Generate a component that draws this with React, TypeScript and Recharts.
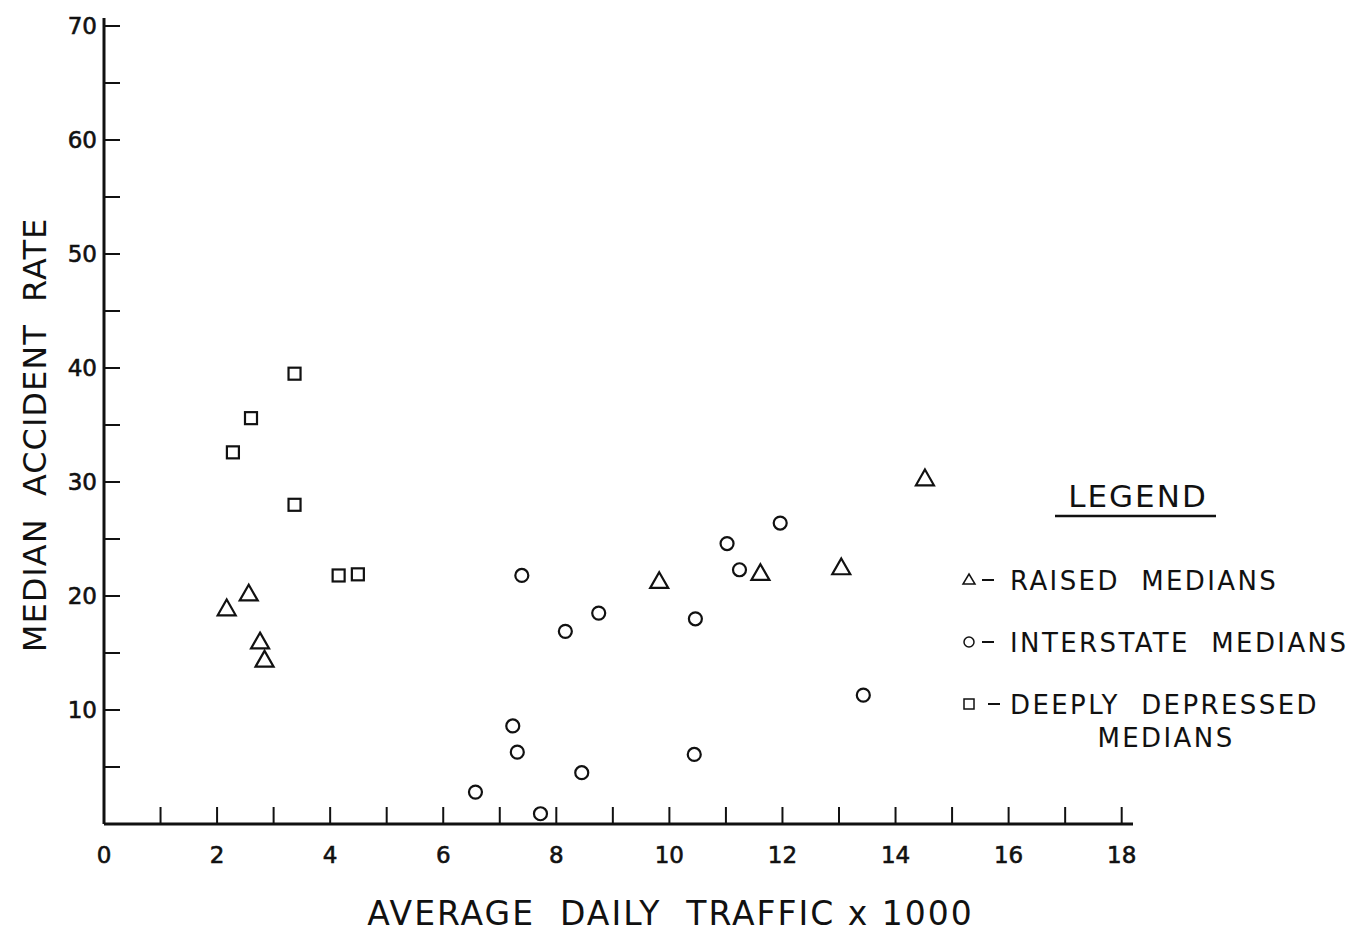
import React from 'react';
import { ScatterChart, Scatter, XAxis, YAxis, Legend } from 'recharts';

// values
const raisedX = [2.17, 2.56, 2.76, 2.84, 9.82, 11.61, 13.04, 14.52];
const raisedY = [18.9, 20.2, 16.0, 14.4, 21.3, 22.0, 22.5, 30.3];

const interstateX = [6.57, 7.23, 7.31, 7.39, 7.72, 8.16, 8.45, 8.75, 10.46, 10.44, 11.02, 11.24, 11.96, 13.43];
const interstateY = [2.8, 8.6, 6.3, 21.8, 0.9, 16.9, 4.5, 18.5, 18.0, 6.1, 24.6, 22.3, 26.4, 11.3];

const depressedX = [3.37, 2.6, 2.28, 3.37, 4.15, 4.49];
const depressedY = [39.5, 35.6, 32.6, 28.0, 21.8, 21.9];

const xTicks = [0, 1, 2, 3, 4, 5, 6, 7, 8, 9, 10, 11, 12, 13, 14, 15, 16, 17, 18];
const yTicks = [5, 10, 15, 20, 25, 30, 35, 40, 45, 50, 55, 60, 65, 70];

const seriesNames = ['RAISED MEDIANS', 'INTERSTATE MEDIANS', 'DEEPLY DEPRESSED|MEDIANS'];

const INK = '#111';
const FONT = '"DejaVu Sans", sans-serif';

const toPoints = (xs: number[], ys: number[]) => xs.map((x, i) => ({ x, y: ys[i] }));

const raised = toPoints(raisedX, raisedY);
const interstate = toPoints(interstateX, interstateY);
const depressed = toPoints(depressedX, depressedY);

function Triangle(props: any) {
  const { cx, cy } = props;
  if (cx == null || cy == null) return null;
  const s = 9;
  return (
    <path
      d={`M${cx},${cy - s} L${cx + s},${cy + s * 0.75} L${cx - s},${cy + s * 0.75} Z`}
      fill="none"
      stroke={INK}
      strokeWidth={2.2}
    />
  );
}

function Circle(props: any) {
  const { cx, cy } = props;
  if (cx == null || cy == null) return null;
  return <circle cx={cx} cy={cy} r={6.5} fill="none" stroke={INK} strokeWidth={2.2} />;
}

function Square(props: any) {
  const { cx, cy } = props;
  if (cx == null || cy == null) return null;
  return <rect x={cx - 6} y={cy - 6} width={12} height={12} fill="none" stroke={INK} strokeWidth={2.2} />;
}

function XTick(props: any) {
  const { x, y, payload } = props;
  const v = payload.value;
  return (
    <g>
      <line x1={x} x2={x} y1={y} y2={y - 17} stroke={INK} strokeWidth={2} />
      {v % 2 === 0 && (
        <text x={x} y={y + 39} textAnchor="middle" fontFamily={FONT} fontSize={23} fill={INK} stroke={INK} strokeWidth={0.6}>
          {v}
        </text>
      )}
    </g>
  );
}

function YTick(props: any) {
  const { x, y, payload } = props;
  const v = payload.value;
  return (
    <g>
      <line x1={x} x2={x + 16} y1={y} y2={y} stroke={INK} strokeWidth={2} />
      {v % 10 === 0 && (
        <text x={x - 7} y={y + 8} textAnchor="end" fontFamily={FONT} fontSize={23} fill={INK} stroke={INK} strokeWidth={0.6}>
          {v}
        </text>
      )}
    </g>
  );
}

function LegendIcon({ kind }: { kind: number }) {
  if (kind === 0) return <path d="M7,2 L13,12 L1,12 Z" fill="none" stroke={INK} strokeWidth={1.5} />;
  if (kind === 1) return <circle cx={7} cy={8} r={5} fill="none" stroke={INK} strokeWidth={1.5} />;
  return <rect x={2} y={3} width={10} height={10} fill="none" stroke={INK} strokeWidth={1.5} />;
}

function LegendBox(props: any) {
  const names = (props.payload || []).map((p: any) => String(p.value));
  const items = seriesNames.filter((n) => names.includes(n));
  return (
    <svg width={395} height={300} style={{ overflow: 'visible', display: 'block' }}>
      <text x={178} y={48} textAnchor="middle" fontFamily={FONT} fontSize={31} letterSpacing={2} fill={INK}>
        LEGEND
      </text>
      <line x1={95} x2={256} y1={57} y2={57} stroke={INK} strokeWidth={2.5} />
      {items.map((name: string, i: number) => {
        const kind = seriesNames.indexOf(name);
        const lines = name.split('|');
        const top = 131 + i * 62;
        return (
          <g key={name}>
            <g transform={`translate(2,${top - 18})`}>
              <LegendIcon kind={kind} />
            </g>
            <line x1={kind === 2 ? 28 : 22} x2={kind === 2 ? 40 : 34} y1={top - 10} y2={top - 10} stroke={INK} strokeWidth={2} />
            {lines.map((ln, j) => (
              <text
                key={ln}
                x={j === 0 ? 50 : 206}
                y={top + j * 33}
                textAnchor={j === 0 ? 'start' : 'middle'}
                fontFamily={FONT}
                fontSize={26}
                letterSpacing={2.4}
                fill={INK}
                style={{ whiteSpace: 'pre' }}
              >
                {ln.replace(' ', '  ')}
              </text>
            ))}
          </g>
        );
      })}
    </svg>
  );
}

export default function App() {
  return (
    <div style={{ position: 'absolute', left: 0, top: 0, background: '#fff' }}>
      <ScatterChart width={1357} height={932} margin={{ top: 18, right: 224, bottom: 107, left: 103 }}>
        <XAxis
          type="number"
          dataKey="x"
          domain={[0, 18.2]}
          ticks={xTicks}
          interval={0}
          height={1}
          tickSize={0}
          tickMargin={0}
          tickLine={false}
          tick={<XTick />}
          axisLine={{ stroke: INK, strokeWidth: 3 }}
          allowDataOverflow
          label={{
            content: (p: any) => (
              <text
                x={p.viewBox.x + p.viewBox.width / 2 + 52}
                y={p.viewBox.y + 101}
                textAnchor="middle"
                fontFamily={FONT}
                fontSize={33}
                letterSpacing={2}
                fill={INK}
                style={{ whiteSpace: 'pre' }}
              >
                AVERAGE  DAILY  TRAFFIC x 1000
              </text>
            ),
          }}
        />
        <YAxis
          type="number"
          dataKey="y"
          domain={[0, 70.7]}
          ticks={yTicks}
          interval={0}
          width={1}
          tickSize={0}
          tickMargin={0}
          tickLine={false}
          tick={<YTick />}
          axisLine={{ stroke: INK, strokeWidth: 3 }}
          allowDataOverflow
          label={{
            content: () => (
              <text
                x={0}
                y={0}
                transform="translate(46,435) rotate(-90)"
                textAnchor="middle"
                fontFamily={FONT}
                fontSize={32}
                letterSpacing={1}
                fill={INK}
                style={{ whiteSpace: 'pre' }}
              >
                MEDIAN  ACCIDENT  RATE
              </text>
            ),
          }}
        />
        <Legend
          content={<LegendBox />}
          layout="vertical"
          align="center"
          verticalAlign="middle"
          wrapperStyle={{ position: 'absolute', left: 960, top: 459, width: 395 }}
        />
        <Scatter name={seriesNames[0]} data={raised} shape={<Triangle />} isAnimationActive={false} legendType="triangle" />
        <Scatter name={seriesNames[1]} data={interstate} shape={<Circle />} isAnimationActive={false} legendType="circle" />
        <Scatter name={seriesNames[2]} data={depressed} shape={<Square />} isAnimationActive={false} legendType="square" />
      </ScatterChart>
    </div>
  );
}
